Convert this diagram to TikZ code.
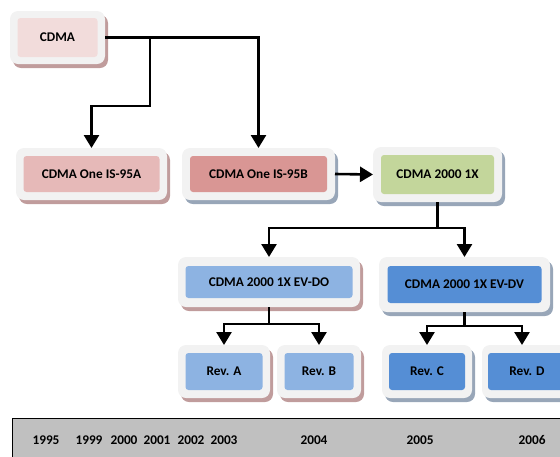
\documentclass[tikz,border=0pt]{standalone}
\usepackage{fontspec}
\setmainfont{Carlito}
\usetikzlibrary{arrows.meta,shadows}
\definecolor{outerc}{HTML}{F2F2F2}
\definecolor{shbr}{HTML}{C09C9C}
\definecolor{shbl}{HTML}{98A6B8}
\definecolor{cA}{HTML}{F2DCDB}
\definecolor{cB}{HTML}{E6B9B8}
\definecolor{cC}{HTML}{D99694}
\definecolor{cD}{HTML}{C3D69B}
\definecolor{cE}{HTML}{8DB3E2}
\definecolor{cF}{HTML}{558ED5}
\definecolor{tl}{HTML}{C0C0C0}
\begin{document}
\begin{tikzpicture}[x=1pt,y=-1pt,
  frame/.style={fill=outerc, rounded corners=8pt, inner sep=0pt, outer sep=0pt},
  brsh/.style={drop shadow={shadow xshift=3pt,shadow yshift=-4pt,fill=shbr,opacity=1}},
  blsh/.style={drop shadow={shadow xshift=3pt,shadow yshift=-4pt,fill=shbl,opacity=1}},
  core/.style={rounded corners=3pt, inner sep=0pt, outer sep=0pt, font=\fontsize{13.3}{15}\selectfont\bfseries, text=black},
  year/.style={inner sep=0pt, font=\fontsize{13.3}{15}\selectfont\bfseries, text=black},
  arr/.style={line width=2.6pt, -{Triangle[width=15pt,length=13pt]}},
  ln/.style={line width=2.6pt},
]
\useasboundingbox (0,0) rectangle (560,456);
\clip (0,0) rectangle (560,456);

% boxes
\node[frame,brsh,minimum width=95pt,minimum height=53pt] (cdma) at (57.5,37.5) {};
\node[core,fill=cA,minimum width=80pt,minimum height=39pt] (cdma-t) at (cdma.center) {CDMA};

\node[frame,brsh,minimum width=151pt,minimum height=52pt] (is95a) at (91.5,174) {};
\node[core,fill=cB,minimum width=136pt,minimum height=36pt] (is95a-t) at (is95a.center) {CDMA One IS-95A};

\node[frame,blsh,minimum width=153pt,minimum height=52pt] (is95b) at (258.5,174) {};
\node[core,fill=cC,minimum width=137pt,minimum height=36pt] (is95b-t) at (is95b.center) {CDMA One IS-95B};

\node[frame,blsh,minimum width=129pt,minimum height=55pt] (onex) at (437.5,174.5) {};
\node[core,fill=cD,minimum width=113pt,minimum height=39pt] (onex-t) at (onex.center) {CDMA 2000 1X};

\node[frame,brsh,minimum width=182pt,minimum height=50pt] (evdo) at (269,282) {};
\node[core,fill=cE,minimum width=167pt,minimum height=32pt] (evdo-t) at (evdo.center) {CDMA 2000 1X EV-DO};

\node[frame,blsh,minimum width=171pt,minimum height=55pt] (evdv) at (464.5,284.5) {};
\node[core,fill=cF,minimum width=154pt,minimum height=37pt] (evdv-t) at (evdv.center) {CDMA 2000 1X EV-DV};

\node[frame,brsh,minimum width=92pt,minimum height=53pt] (reva) at (224,371.5) {};
\node[core,fill=cE,minimum width=77pt,minimum height=37pt] (reva-t) at (reva.center) {Rev. A};

\node[frame,brsh,minimum width=84pt,minimum height=53pt] (revb) at (319,371.5) {};
\node[core,fill=cE,minimum width=69pt,minimum height=37pt] (revb-t) at (revb.center) {Rev. B};

\node[frame,blsh,minimum width=90pt,minimum height=53pt] (revc) at (427,371.5) {};
\node[core,fill=cF,minimum width=76pt,minimum height=37pt] (revc-t) at (revc.center) {Rev. C};

\node[frame,blsh,minimum width=90pt,minimum height=53pt] (revd) at (527,371.5) {};
\node[core,fill=cF,minimum width=78pt,minimum height=37pt] (revd-t) at (revd.center) {Rev. D};

% connectors
\draw[arr] (cdma.east) -| (is95b.north);
\coordinate (j1) at (150,37.5);
\draw[arr] (j1) -- (150,106) -| (is95a.north);
\draw[arr] (is95b.east) -- (onex.west);
\draw[ln] (onex.south) -- (437.5,228) coordinate (j2);
\draw[arr] (j2) -| (evdo.north);
\draw[arr] (j2) -| (evdv.north);
\draw[ln] (evdo.south) -- (269,324) coordinate (j3);
\draw[arr] (j3) -| (reva.north);
\draw[arr] (j3) -| (revb.north);
\draw[ln] (evdv.south) -- (464.5,326) coordinate (j4);
\draw[arr] (j4) -| (revc.north);
\draw[arr] (j4) -| ([xshift=-5pt]revd.north);

% timeline
\draw[fill=tl, line width=1.5pt] (12.5,418.5) rectangle (580,480);
\node[year] (y1995) at (46,440) {1995};
\node[year] (y1999) at (89,440) {1999};
\node[year] (y2000) at (124,440) {2000};
\node[year] (y2001) at (157,440) {2001};
\node[year] (y2002) at (191,440) {2002};
\node[year] (y2003) at (224,440) {2003};
\node[year] (y2004) at (314,440) {2004};
\node[year] (y2005) at (420,440) {2005};
\node[year] (y2006) at (532,440) {2006};
\end{tikzpicture}
\end{document}
